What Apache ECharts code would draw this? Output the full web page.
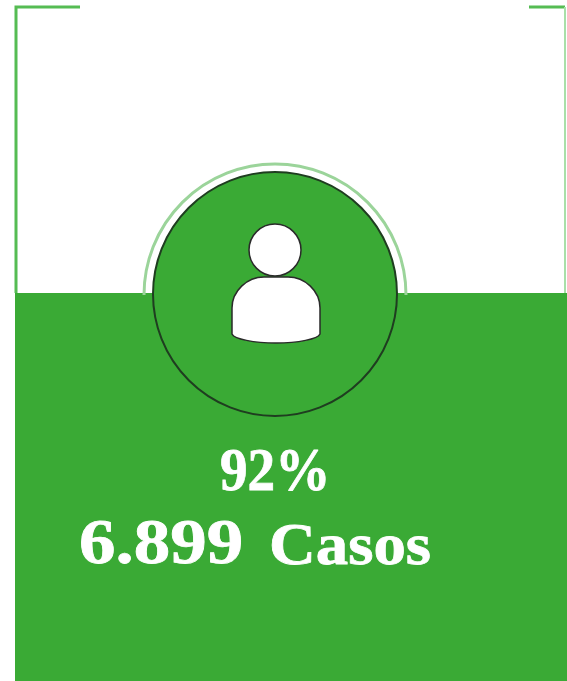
<!DOCTYPE html>
<html>
<head>
<meta charset="utf-8">
<style>
html, body { margin: 0; padding: 0; background: #fff; }
#main { width: 567px; height: 681px; }
</style>
<script src="https://cdn.jsdelivr.net/npm/echarts@6/dist/echarts.min.js"></script>
</head>
<body>
<div id="main"></div>
<script>
const categories = ['Casos'];
const percentValues = [92];
const percentLabel = '92%';
const casesLabel = '6.899';
const casesUnit = 'Casos';

const green = '#3aaa35';
const frameGreen = '#55bc53';
const serif = '"Liberation Serif", serif';

// el cuerpo del icono no existe como forma en graphic
echarts.graphic.registerShape('personBody', echarts.graphic.extendShape({
	buildPath: function (ctx) {
		ctx.moveTo(232, 334);
		ctx.lineTo(232, 308);
		ctx.bezierCurveTo(232, 291, 247, 277, 264, 277);
		ctx.lineTo(288, 277);
		ctx.bezierCurveTo(305, 277, 320, 291, 320, 308);
		ctx.lineTo(320, 334);
		ctx.bezierCurveTo(318, 339, 298, 343, 276, 343);
		ctx.bezierCurveTo(254, 343, 234, 339, 232, 334);
		ctx.closePath();
	}
}));

var myChart = echarts.init(document.querySelector('#main'));

function boldText(x, y, text, size, scaleX) {
	return {
		type: 'text',
		x: x,
		y: y,
		scaleX: scaleX,
		z: 20,
		style: {
			text: text,
			fill: '#fff',
			stroke: '#fff',
			lineWidth: 0.8,
			font: 'bold ' + size + 'px ' + serif,
			textAlign: 'left',
			textVerticalAlign: 'middle'
		}
	};
}

var option = {
	animation: false,
	grid: { left: 15, right: 0, top: 293, bottom: 0 },
	xAxis: { type: 'category', data: categories, show: false },
	yAxis: { type: 'value', min: 0, max: 92, show: false },
	series: [
		{
			type: 'bar',
			data: percentValues,
			barWidth: '100%',
			itemStyle: { color: green }
		}
	],
	graphic: [
		// marco
		{ type: 'polyline', z: 5, shape: { points: [[80, 7], [16, 7], [16, 293]] }, style: { stroke: frameGreen, lineWidth: 3, fill: null } },
		{ type: 'polyline', z: 5, shape: { points: [[529, 7], [565, 7]] }, style: { stroke: frameGreen, lineWidth: 3, fill: null } },
		{ type: 'line', z: 5, shape: { x1: 565, y1: 7, x2: 565, y2: 293 }, style: { stroke: '#a9dfa8', lineWidth: 2 } },
		// arcos del circulo
		{ type: 'arc', z: 6, shape: { cx: 275, cy: 295, r: 131, startAngle: Math.PI, endAngle: 2 * Math.PI }, style: { stroke: '#9bd49a', lineWidth: 3, fill: null } },
		{ type: 'circle', z: 7, shape: { cx: 275, cy: 294, r: 122 }, style: { fill: green, stroke: '#1f3d20', lineWidth: 2 } },
		// persona
		{ type: 'circle', z: 8, shape: { cx: 275, cy: 250, r: 26 }, style: { fill: '#fff', stroke: '#2a2a2a', lineWidth: 1.5 } },
		{ type: 'personBody', z: 8, shape: {}, style: { fill: '#fff', stroke: '#2a2a2a', lineWidth: 1.5 } },
		boldText(220, 474, percentLabel, 62, 0.89),
		boldText(79, 546, casesLabel, 64, 1.14),
		boldText(269, 548, casesUnit, 60, 1.08)
	]
};
myChart.setOption(option);
</script>
</body>
</html>
